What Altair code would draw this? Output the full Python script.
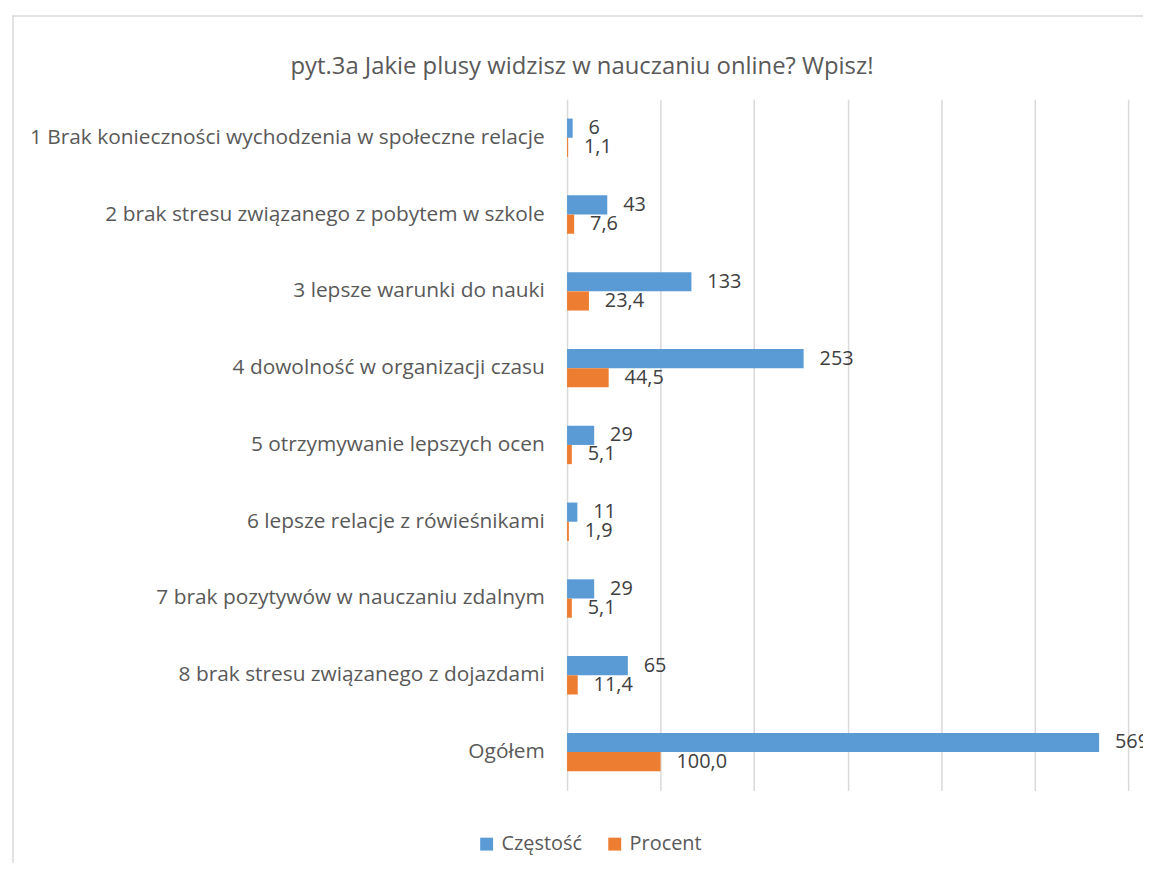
import altair as alt
import pandas as pd

categories = [
    "1 Brak konieczności wychodzenia w społeczne relacje",
    "2 brak stresu związanego z pobytem w szkole",
    "3 lepsze warunki do nauki",
    "4 dowolność w organizacji czasu",
    "5 otrzymywanie lepszych ocen",
    "6 lepsze relacje z rówieśnikami",
    "7 brak pozytywów w nauczaniu zdalnym",
    "8 brak stresu związanego z dojazdami",
    "Ogółem",
]
czestosc = [6, 43, 133, 253, 29, 11, 29, 65, 569]
procent = [1.1, 7.6, 23.4, 44.5, 5.1, 1.9, 5.1, 11.4, 100.0]
series = ["Częstość", "Procent"]
colors = ["#5B9BD5", "#ED7D31"]
x_ticks = [0, 100, 200, 300, 400, 500, 600]
title_text = "pyt.3a Jakie plusy widzisz w nauczaniu online? Wpisz!"

rows = []
for c, f, p in zip(categories, czestosc, procent):
    rows.append({"cat": c, "series": series[0], "value": f, "label": str(f)})
    rows.append({"cat": c, "series": series[1], "value": p,
                 "label": f"{p:.1f}".replace(".", ",")})
df = pd.DataFrame(rows)

FONT = "Open Sans"
FS = 20

base = alt.Chart(df).encode(
    y=alt.Y("cat:N", sort=categories,
            scale=alt.Scale(paddingInner=0.5, paddingOuter=0.25),
            axis=alt.Axis(title=None, domain=False, ticks=False, labelLimit=0,
                          labelPadding=23, labelFontSize=21, labelFont=FONT,
                          labelColor="#595959")),
    yOffset=alt.YOffset("series:N", sort=series),
    x=alt.X("value:Q", scale=alt.Scale(domain=[0, 600], nice=False),
            axis=alt.Axis(title=None, values=x_ticks, labels=False, ticks=False,
                          domain=False, grid=True, gridColor="#d9d9d9",
                          gridWidth=1.5)),
)

bars = base.mark_bar().encode(
    color=alt.Color("series:N", sort=series,
                    scale=alt.Scale(domain=series, range=colors),
                    legend=alt.Legend(title=None, orient="none", direction="horizontal",
                                      legendX=-91, legendY=740, symbolType="square",
                                      symbolSize=169, symbolStrokeWidth=0,
                                      labelFontSize=FS, labelFont=FONT,
                                      labelColor="#595959", columnPadding=22,
                                      labelOffset=5)),
)

labels = base.mark_text(align="left", baseline="middle", dx=16, fontSize=FS,
                        font=FONT, color="#404040").encode(text="label:N")

one = pd.DataFrame({"a": [0]})
border = alt.Chart(one).mark_rect(
    fill=None, stroke="#d9d9d9", strokeWidth=1.5
).encode(x=alt.value(-558), x2=alt.value(800), y=alt.value(-84), y2=alt.value(900))

title = alt.Chart(one).mark_text(
    align="center", baseline="middle", fontSize=24, font=FONT, color="#595959"
).encode(x=alt.value(15), y=alt.value(-33), text=alt.value(title_text))

chart = alt.layer(border, title, bars, labels).properties(
    width=565, height=696,
    autosize=alt.AutoSizeParams(type="none"),
    padding={"left": 563, "top": 89, "right": 15, "bottom": 70},
).configure_view(stroke=None)

chart.save("out.html", embed_options={"renderer": "svg", "actions": False})
